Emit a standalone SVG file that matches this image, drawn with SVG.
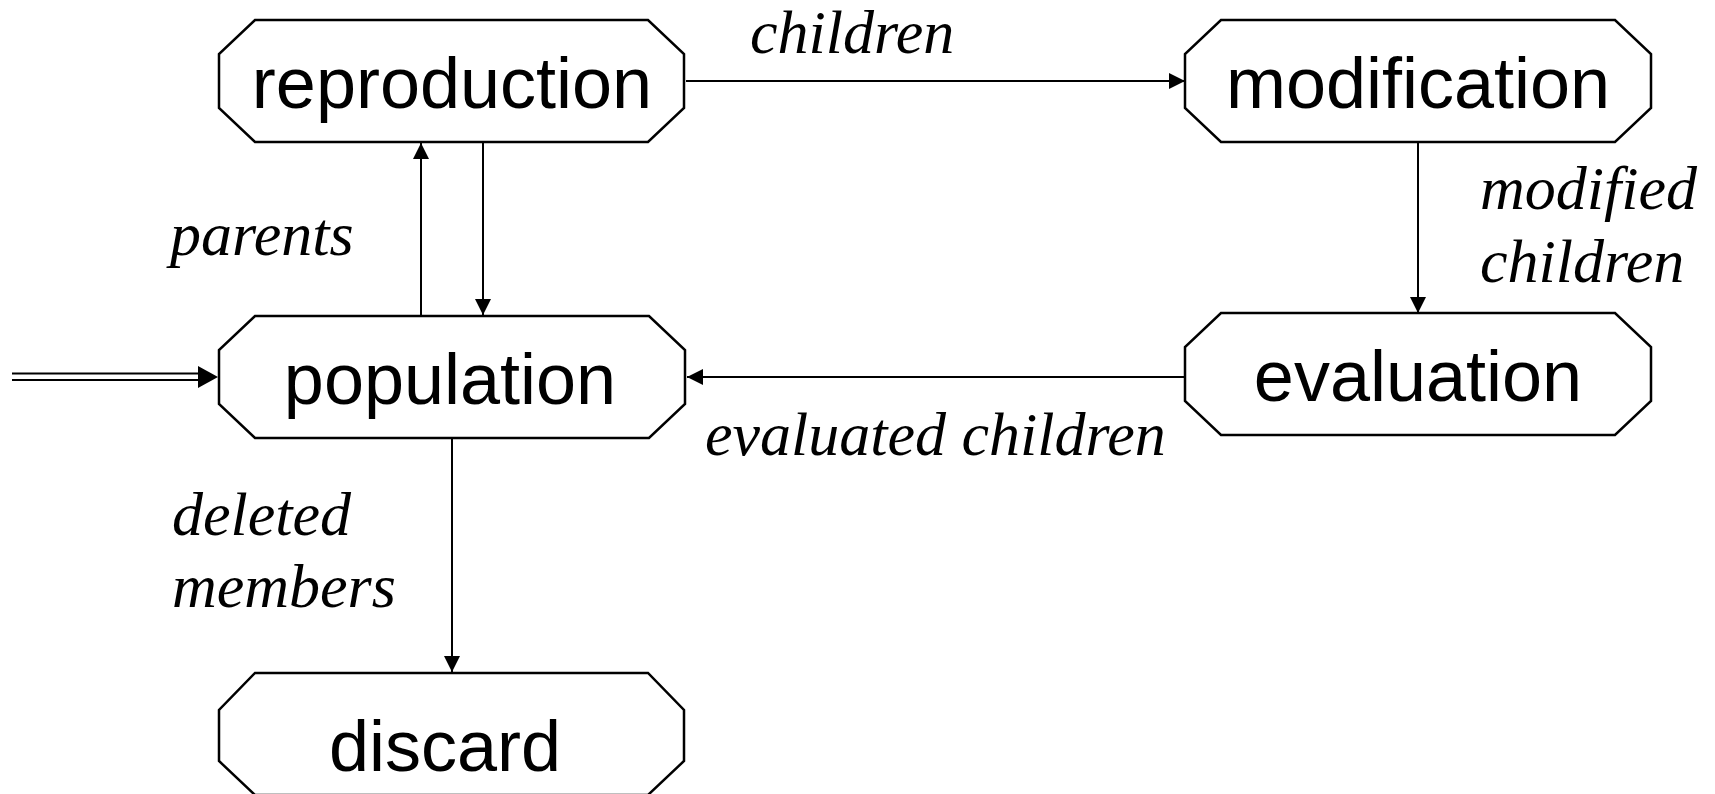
<svg xmlns="http://www.w3.org/2000/svg" width="1715" height="794" viewBox="0 0 1715 794">
<style>
.box{fill:#fff;stroke:#000;stroke-width:2.5}
.nt{font-family:"Liberation Sans",Arial,sans-serif;font-size:72px;text-anchor:middle;fill:#000}
.lb{font-family:"Liberation Serif","Times New Roman",serif;font-style:italic;font-size:62px;fill:#000}
.ln{stroke:#000;stroke-width:2;fill:none}
</style>
<defs>
<marker id="ah" markerUnits="userSpaceOnUse" markerWidth="16" markerHeight="16" viewBox="0 0 16 16" refX="16" refY="8" orient="auto">
<polygon points="0,0 16,8 0,16" fill="#000"/>
</marker>
</defs>
<rect width="1715" height="794" fill="#fff"/>
<g id="connectors">
<line class="ln" x1="686" y1="81" x2="1185" y2="81" marker-end="url(#ah)"/>
<line class="ln" x1="421" y1="316" x2="421" y2="143" marker-end="url(#ah)"/>
<line class="ln" x1="483" y1="143" x2="483" y2="315" marker-end="url(#ah)"/>
<line class="ln" x1="1418" y1="143" x2="1418" y2="313" marker-end="url(#ah)"/>
<line class="ln" x1="1185" y1="377" x2="687" y2="377" marker-end="url(#ah)"/>
<line class="ln" x1="452" y1="439" x2="452" y2="672" marker-end="url(#ah)"/>
<line class="ln" x1="12" y1="373.5" x2="202" y2="373.5" stroke-width="2.5"/>
<line class="ln" x1="12" y1="380" x2="202" y2="380" stroke-width="2.5"/>
<polygon points="198,366 218,377 198,388" fill="#000"/>
</g>
<g id="reproduction">
<polygon class="box" points="255,20 648,20 684,54 684,108 648,142 255,142 219,108 219,54"/>
<text class="nt" x="452" y="108">reproduction</text>
</g>
<g id="modification">
<polygon class="box" points="1221,20 1615,20 1651,54 1651,108 1615,142 1221,142 1185,108 1185,54"/>
<text class="nt" x="1418" y="108">modification</text>
</g>
<g id="population">
<polygon class="box" points="255,316 649,316 685,350 685,404 649,438 255,438 219,404 219,350"/>
<text class="nt" x="450" y="404">population</text>
</g>
<g id="evaluation">
<polygon class="box" points="1221,313 1615,313 1651,347 1651,401 1615,435 1221,435 1185,401 1185,347"/>
<text class="nt" x="1418" y="401">evaluation</text>
</g>
<g id="discard">
<polygon class="box" points="255,673 648,673 684,710 684,761 648,795 255,795 219,761 219,710"/>
<text class="nt" x="445" y="771">discard</text>
</g>
<g id="labels">
<text class="lb" x="750" y="53">children</text>
<text class="lb" x="1480" y="209">modified</text>
<text class="lb" x="1480" y="282">children</text>
<text class="lb" x="170" y="255">parents</text>
<text class="lb" x="705" y="455">evaluated children</text>
<text class="lb" x="172" y="535">deleted</text>
<text class="lb" x="172" y="607">members</text>
</g>
</svg>
